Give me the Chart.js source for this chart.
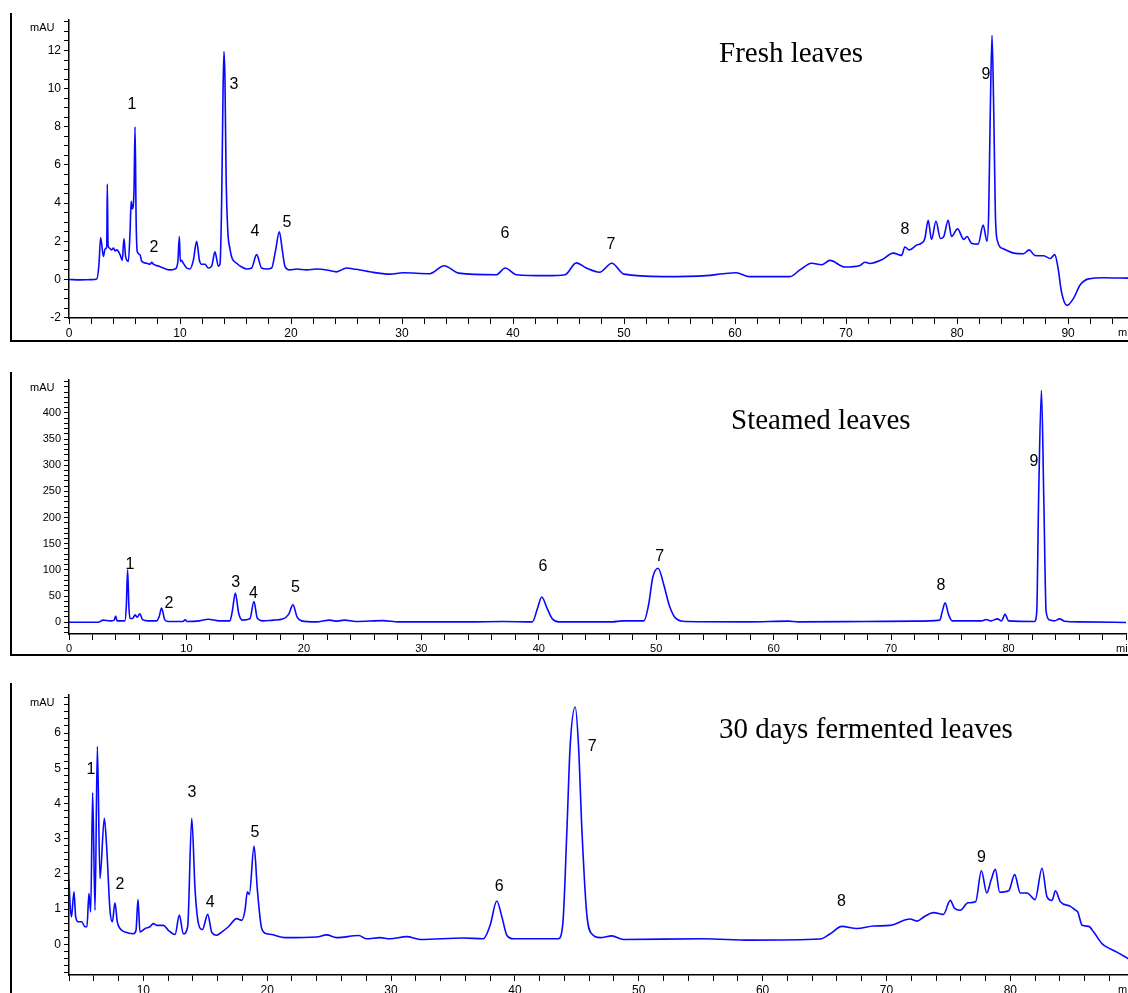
<!DOCTYPE html>
<html>
<head>
<meta charset="utf-8">
<script src="https://cdn.jsdelivr.net/npm/chart.js@4.4.1/dist/chart.umd.min.js"></script>
<style>
    body { margin: 0; background: #fff; width: 1128px; height: 993px; overflow: hidden; position: relative; }
    .panel { position: absolute; left: 0; width: 1128px; }
    .frame { position: absolute; left: 10px; border-left: 2px solid #000; border-bottom: 2px solid #000; width: 1120px; }
    canvas { position: absolute; left: 0; top: 0; }
</style>
</head>
<body>
<div class="frame" style="top:13px;height:327px"></div>
<div class="frame" style="top:372px;height:282px"></div>
<div class="frame" style="top:683px;height:320px"></div>
<div class="panel" style="top:0;height:345px"><canvas id="freshCanvas" width="1128" height="345"></canvas></div>
<div class="panel" style="top:365px;height:300px"><canvas id="steamCanvas" width="1128" height="300"></canvas></div>
<div class="panel" style="top:680px;height:313px"><canvas id="fermCanvas" width="1128" height="313"></canvas></div>
<script>
// Peak numbers used in every chromatogram
var peakNames = ['1', '2', '3', '4', '5', '6', '7', '8', '9'];

// Fresh leaves trace (retention time in min, absorbance in mAU)
var freshTime = [0, 1, 2, 2.5, 2.7, 2.85, 3.1, 3.25, 3.4, 3.45, 3.52, 3.63, 3.85, 4.0, 4.15, 4.3, 4.6, 4.8, 4.95, 5.1, 5.35, 5.5, 5.6, 5.7, 5.85, 5.95, 6.05, 6.15, 6.4, 6.55, 7.0, 7.3, 7.45, 7.6, 8.05, 8.5, 9.1, 9.55, 9.8, 9.94, 10.03, 10.15, 10.25, 10.6, 10.9, 11.2, 11.5, 11.75, 11.95, 12.25, 12.55, 12.85, 13.15, 13.45, 13.6, 13.75, 13.88, 13.96, 14.05, 14.15, 14.3, 14.5, 14.7, 15.1, 15.55, 16.0, 16.45, 16.9, 17.35, 17.8, 18.25, 18.6, 18.95, 19.2, 19.45, 19.9, 20.5, 21.4, 22.3, 23.2, 24.1, 25.0, 25.6, 26.2, 27.1, 28.9, 30.1, 32.5, 33.8, 35.1, 38.5, 39.3, 40.3, 43.0, 44.7, 45.7, 46.6, 47.8, 48.9, 50.0, 53.5, 57.4, 58.9, 60.1, 61.3, 64.95, 65.85, 66.9, 67.8, 68.55, 69.9, 71.25, 71.7, 72.15, 73.2, 74.25, 75.0, 75.3, 75.7, 76.35, 76.8, 77.1, 77.4, 77.7, 78.1, 78.5, 78.8, 79.2, 79.5, 80.05, 80.6, 80.9, 81.3, 81.9, 82.35, 82.7, 82.85, 83.0, 83.15, 83.3, 83.45, 83.6, 84.2, 85.1, 86.0, 86.5, 87.0, 87.8, 88.4, 88.8, 89.1, 89.4, 89.9, 90.5, 91.1, 91.85, 93.2, 95.4];
var freshMAU = [0, -0.02, -0.01, 0.02, 0.8, 2.2, 1.2, 1.6, 1.7, 5.0, 1.8, 1.65, 1.55, 1.65, 1.5, 1.55, 1.3, 1.0, 2.15, 1.2, 0.95, 2.5, 4.1, 3.7, 4.5, 8.0, 3.0, 1.45, 1.3, 0.95, 0.85, 0.8, 0.9, 0.8, 0.7, 0.6, 0.5, 0.55, 0.9, 2.25, 0.95, 1.0, 0.9, 0.6, 0.55, 1.0, 2.0, 1.0, 0.8, 0.8, 0.6, 0.7, 1.45, 0.7, 0.8, 4.0, 10.0, 11.95, 10.5, 5.5, 2.6, 1.6, 1.1, 0.85, 0.65, 0.55, 0.6, 1.3, 0.6, 0.55, 0.6, 1.5, 2.5, 1.6, 0.7, 0.5, 0.55, 0.5, 0.55, 0.5, 0.4, 0.6, 0.55, 0.5, 0.4, 0.28, 0.35, 0.3, 0.72, 0.33, 0.25, 0.6, 0.25, 0.2, 0.25, 0.87, 0.6, 0.38, 0.85, 0.28, 0.15, 0.2, 0.3, 0.35, 0.15, 0.15, 0.5, 0.85, 0.77, 1.0, 0.65, 0.73, 0.9, 0.84, 1.03, 1.38, 1.26, 1.7, 1.55, 1.8, 1.9, 2.15, 3.1, 2.1, 3.05, 2.15, 2.25, 3.1, 2.25, 2.65, 2.1, 2.25, 1.9, 1.85, 2.85, 2.0, 3.5, 9.0, 12.8, 9.0, 3.5, 2.1, 1.6, 1.38, 1.35, 1.55, 1.26, 1.24, 1.1, 1.3, 0.6, -0.63, -1.36, -0.98, -0.28, 0.03, 0.09, 0.07];
var freshLabelTime = [5.68, 7.66, 14.86, 16.76, 19.64, 39.28, 48.83, 75.3, 82.6];
var freshLabelMAU = [9.16, 1.68, 10.2, 2.51, 2.98, 2.41, 1.83, 2.62, 10.73];

// Steamed leaves trace
var steamTime = [0, 2.5, 2.9, 3.5, 3.85, 3.97, 4.1, 4.75, 4.88, 4.99, 5.1, 5.2, 5.4, 5.64, 5.8, 6.03, 6.26, 6.74, 7.45, 7.68, 7.88, 8.16, 8.44, 9.7, 9.9, 10.05, 11.1, 11.85, 12.8, 13.7, 13.9, 14.16, 14.45, 14.76, 15.4, 15.75, 16.03, 16.5, 17.4, 18.2, 18.7, 19.07, 19.43, 19.8, 21.05, 22.2, 22.75, 23.45, 24.45, 26.7, 28.1, 34.1, 36.9, 39.45, 39.9, 40.25, 40.7, 41.15, 41.7, 46.25, 47.1, 48.95, 49.35, 49.7, 50.16, 50.65, 51.1, 51.65, 52.5, 57.9, 61.26, 62.1, 67.8, 72.0, 74.15, 74.35, 74.6, 74.9, 75.2, 77.7, 78.1, 78.5, 79.05, 79.4, 79.7, 80.0, 82.2, 82.4, 82.56, 82.8, 83.0, 83.2, 83.5, 83.9, 84.35, 84.77, 86.2, 90];
var steamMAU = [0, 0, 4, 2.5, 4, 11.5, 2.5, 2.5, 30, 100, 30, 7.7, 7, 14, 9.5, 16, 5, 2.5, 2.5, 11, 27, 4.5, 1.3, 1.3, 4.5, 1.3, 2.5, 5.7, 2.5, 2.5, 20, 55.5, 17, 4, 6.4, 39.5, 7.7, 2.5, 4, 6, 15, 33, 9.5, 2.5, 0.6, 4, 2, 4, 1.3, 3, 0.6, 0.6, 1.3, 0.6, 27, 48, 27, 6.4, 0.6, 0.6, 2.5, 2.5, 33, 85, 103, 71, 33, 7.7, 1.3, 0.6, 2, 0.6, 1.3, 2, 4, 20, 37, 14, 2.5, 2.5, 5, 2.5, 6.4, 2.5, 15, 2.5, 1.3, 20, 237, 443, 237, 20, 4, 2.5, 6.4, 1.9, 0.6, -0.6];
var steamLabelTime = [5.18, 8.5, 14.19, 15.7, 19.29, 40.36, 50.3, 74.25, 82.16];
var steamLabelMAU = [110, 35, 75, 54, 67, 106, 125, 70, 307];

// 30 days fermented leaves trace
var fermTime = [4.0, 4.08, 4.2, 4.4, 4.54, 4.75, 5.02, 5.29, 5.45, 5.61, 5.75, 5.91, 6.1, 6.29, 6.5, 6.85, 7.04, 7.31, 7.5, 7.71, 7.9, 8.12, 8.52, 9.2, 9.41, 9.57, 9.73, 10.14, 10.54, 10.81, 11.08, 11.62, 12.02, 12.56, 12.91, 13.23, 13.58, 13.91, 14.18, 14.45, 14.77, 15.2, 15.52, 15.93, 16.33, 16.87, 17.54, 17.95, 18.21, 18.4, 18.56, 18.94, 19.21, 19.56, 19.97, 20.37, 21.45, 24.0, 24.8, 25.6, 27.4, 28.0, 29.1, 29.9, 31.27, 32.35, 35.85, 37.46, 38.0, 38.54, 38.95, 39.35, 39.9, 43.5, 43.87, 44.2, 44.46, 44.87, 45.14, 45.41, 45.8, 46.2, 46.9, 47.83, 48.77, 55.2, 59.0, 64.65, 65.46, 66.4, 67.6, 68.96, 70.3, 71.9, 72.46, 73.1, 73.8, 74.6, 75.15, 75.5, 75.96, 76.58, 77.2, 77.66, 78.1, 78.44, 78.79, 79.14, 79.87, 80.35, 80.8, 81.35, 82.0, 82.56, 82.96, 83.37, 83.64, 84.04, 84.85, 85.25, 85.44, 85.8, 86.33, 86.73, 87.4, 87.8, 88.6, 89.53];
var fermMAU = [1.85, 1.16, 0.78, 1.49, 0.78, 0.64, 0.64, 0.5, 0.5, 1.44, 0.92, 4.31, 0.97, 5.62, 1.87, 3.58, 2.77, 0.97, 0.64, 1.18, 0.64, 0.45, 0.35, 0.3, 0.4, 1.27, 0.35, 0.45, 0.5, 0.59, 0.54, 0.54, 0.4, 0.28, 0.83, 0.3, 0.5, 3.58, 1.54, 0.59, 0.42, 0.85, 0.35, 0.26, 0.35, 0.5, 0.73, 0.68, 0.97, 1.49, 1.42, 2.79, 1.54, 0.45, 0.3, 0.28, 0.19, 0.21, 0.27, 0.19, 0.25, 0.16, 0.19, 0.16, 0.22, 0.14, 0.18, 0.16, 0.54, 1.23, 0.78, 0.26, 0.16, 0.16, 0.59, 3.25, 5.62, 6.74, 5.62, 3.25, 0.87, 0.3, 0.19, 0.24, 0.14, 0.16, 0.12, 0.15, 0.3, 0.51, 0.45, 0.52, 0.54, 0.72, 0.66, 0.8, 0.9, 0.85, 1.25, 1.02, 0.97, 1.18, 1.21, 2.09, 1.46, 1.82, 2.13, 1.48, 1.52, 1.98, 1.46, 1.46, 1.27, 2.16, 1.35, 1.25, 1.52, 1.21, 1.08, 0.97, 0.92, 0.54, 0.51, 0.35, 0.02, -0.08, -0.22, -0.41];
var fermLabelTime = [5.78, 8.12, 13.93, 15.39, 19.02, 38.73, 46.24, 66.36, 77.66];
var fermLabelMAU = [4.96, 1.71, 4.3, 1.2, 3.16, 1.65, 5.61, 1.22, 2.45];

function toPoints(xs, ys) {
    var pts = [];
    for (var i = 0; i < xs.length; i++) {
        pts.push({x: xs[i], y: ys[i]});
    }
    return pts;
}

function isMultiple(v, step) {
    var r = v / step;
    return Math.abs(r - Math.round(r)) < 1e-6;
}

// Tick marks on every multiple of step inside the axis range
function stepTicks(step) {
    return function (scale) {
        var ticks = [];
        var start = Math.ceil(scale.min / step - 1e-6);
        for (var k = start; k * step <= scale.max + 1e-6; k++) {
            ticks.push({value: Math.round(k * step * 1000) / 1000});
        }
        scale.ticks = ticks;
    };
}

// Draw the title, mAU / min captions and peak numbers
function textPlugin(title, titleX, titleY, labelTime, labelMAU, axisY) {
    return {
        id: 'texts',
        afterDraw: function (chart) {
            var c = chart.ctx;
            var xs = chart.scales.x, ys = chart.scales.y;
            c.save();
            c.fillStyle = '#000';
            c.textAlign = 'center';
            c.textBaseline = 'middle';
            c.font = '16px "Liberation Sans Narrow", "Liberation Sans", Arial, sans-serif';
            for (var i = 0; i < peakNames.length; i++) {
                c.fillText(peakNames[i], xs.getPixelForValue(labelTime[i]), ys.getPixelForValue(labelMAU[i]));
            }
            c.font = '11px "Liberation Sans Narrow", "Liberation Sans", Arial, sans-serif';
            c.textAlign = 'left';
            c.fillText('mAU', 30, ys.top + 8);
            c.fillText('min', chart.chartArea.right - 10, axisY);
            c.font = '29px "Liberation Serif", "Times New Roman", serif';
            c.textBaseline = 'alphabetic';
            c.fillText(title, titleX, titleY);
            c.restore();
        }
    };
}

function makeChart(id, cfg) {
    const ctx = document.getElementById(id).getContext('2d');
    // Create chart by config
    return new Chart(ctx, {
        type: 'line',
        data: {
            datasets: [{
                data: toPoints(cfg.time, cfg.mau),
                borderColor: '#0808ff',
                borderWidth: 1.6,
                pointRadius: 0,
                tension: 0.4,
                cubicInterpolationMode: 'monotone',
                fill: false
            }]
        },
        options: {
            responsive: false,
            animation: false,
            layout: { padding: { top: cfg.top, right: 0, left: 0, bottom: 0 } },
            plugins: { legend: { display: false }, tooltip: { enabled: false } },
            scales: {
                x: {
                    type: 'linear',
                    min: cfg.xMin,
                    max: cfg.xMax,
                    afterBuildTicks: stepTicks(2),
                    afterFit: function (scale) { scale.height = cfg.xHeight; },
                    grid: { drawOnChartArea: false, tickLength: 6, color: '#000', tickWidth: 1 },
                    border: { color: '#000', width: 1.5 },
                    ticks: {
                        maxRotation: 0,
                        autoSkip: false,
                        padding: 2,
                        color: '#000',
                        font: { family: 'Arial, "Liberation Sans", sans-serif', size: cfg.fontSize },
                        callback: function (v) {
                            return isMultiple(v, 10) && v < cfg.xMax - 1 ? String(v) : '';
                        }
                    }
                },
                y: {
                    min: cfg.yMin,
                    max: cfg.yMax,
                    afterBuildTicks: stepTicks(cfg.yMinor),
                    afterFit: function (scale) { scale.width = 69; },
                    grid: { drawOnChartArea: false, tickLength: 5, color: '#000', tickWidth: 1 },
                    border: { color: '#000', width: 1.5 },
                    ticks: {
                        autoSkip: false,
                        padding: 3,
                        color: '#000',
                        font: { family: 'Arial, "Liberation Sans", sans-serif', size: cfg.fontSize },
                        callback: function (v) {
                            return isMultiple(v, cfg.yMajor) && v <= cfg.yLabelMax ? String(Math.round(v)) : '';
                        }
                    }
                }
            }
        },
        plugins: [textPlugin(cfg.title, cfg.titleX, cfg.titleY, cfg.labelTime, cfg.labelMAU, cfg.minY)]
    });
}

makeChart('freshCanvas', {
    time: freshTime, mau: freshMAU, labelTime: freshLabelTime, labelMAU: freshLabelMAU,
    xMin: 0, xMax: 95.4, yMin: -2.02, yMax: 13.6, yMinor: 0.5, yMajor: 2, yLabelMax: 12,
    top: 20, xHeight: 27, fontSize: 12,
    title: 'Fresh leaves', titleX: 719, titleY: 62, minY: 333
});

makeChart('steamCanvas', {
    time: steamTime, mau: steamMAU, labelTime: steamLabelTime, labelMAU: steamLabelMAU,
    xMin: 0, xMax: 90, yMin: -22.6, yMax: 463, yMinor: 10, yMajor: 50, yLabelMax: 400,
    top: 15, xHeight: 31, fontSize: 11,
    title: 'Steamed leaves', titleX: 731, titleY: 64, minY: 284
});

makeChart('fermCanvas', {
    time: fermTime, mau: fermMAU, labelTime: fermLabelTime, labelMAU: fermLabelMAU,
    xMin: 4, xMax: 89.5, yMin: -0.87, yMax: 7.08, yMinor: 0.2, yMajor: 1, yLabelMax: 6,
    top: 15, xHeight: 18, fontSize: 12,
    title: '30 days fermented leaves', titleX: 719, titleY: 58, minY: 310
});
</script>
</body>
</html>
